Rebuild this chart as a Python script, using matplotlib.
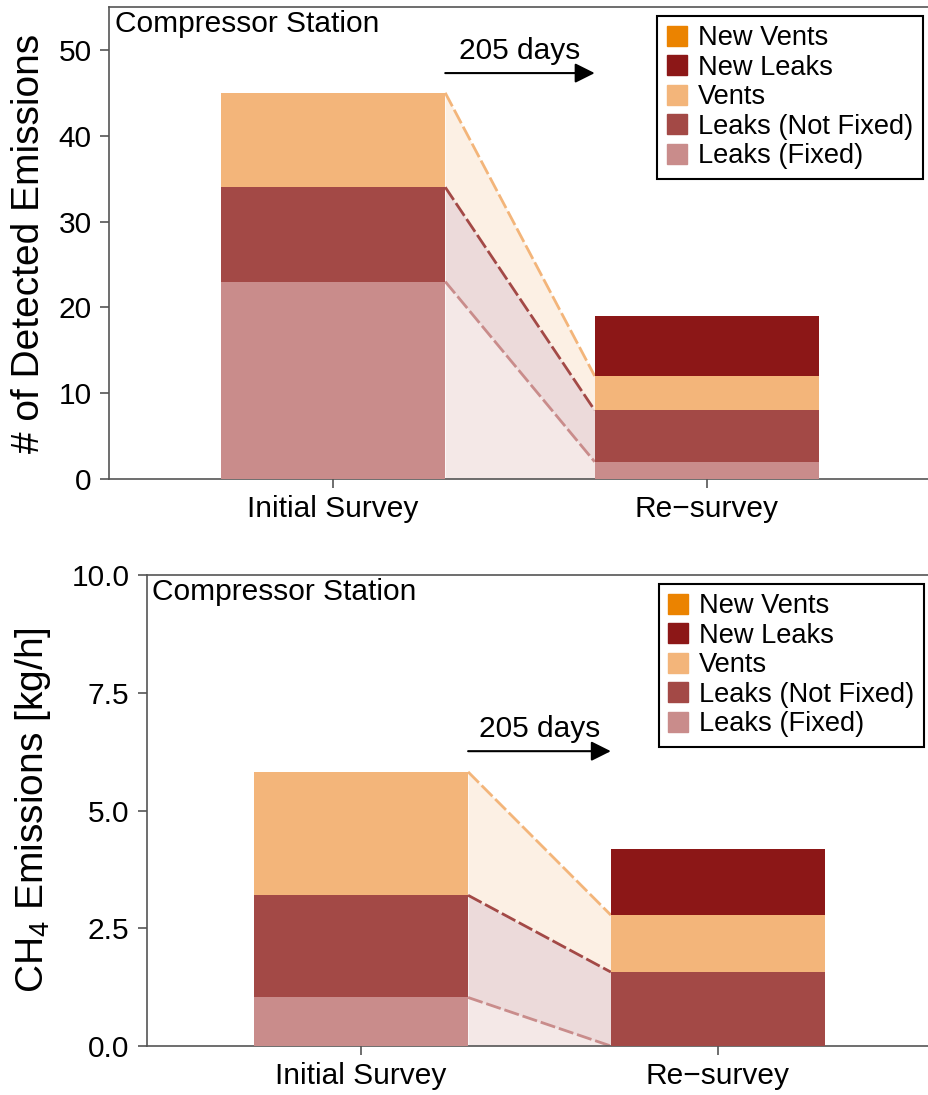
import matplotlib
matplotlib.use("Agg")
import matplotlib.pyplot as plt
import matplotlib.patches as mpatches
import numpy as np

plt.rcParams.update({
    "font.family": ["Liberation Sans", "DejaVu Sans"],
    "font.size": 21.5,
    "mathtext.fontset": "custom",
    "mathtext.rm": "Liberation Sans",
    "mathtext.default": "regular",
})

# ── data ──────────────────────────────────────────────────────────────────────
surveys = ["Initial Survey", "Re\u2212survey"]
labels = ["Leaks (Fixed)", "Leaks (Not Fixed)", "Vents", "New Leaks", "New Vents"]

# number of detected emissions
count_fixed = [23, 2]
count_not_fixed = [11, 6]
count_vents = [11, 4]
count_new_leaks = [0, 7]
count_new_vents = [0, 0]

# CH4 emission rate, kg/h
rate_fixed = [1.03, 0.0]
rate_not_fixed = [2.17, 1.57]
rate_vents = [2.62, 1.21]
rate_new_leaks = [0.0, 1.41]
rate_new_vents = [0.0, 0.0]

days_between = 205

COLORS = {
    "Leaks (Fixed)": "#c98c8b",
    "Leaks (Not Fixed)": "#a34946",
    "Vents": "#f3b57a",
    "New Leaks": "#8c1717",
    "New Vents": "#eb8300",
}
SPINE = "#555555"
W = 0.6


def panel(ax, stacks, ylim, yticks, ylabel, label_x, arrow_y):
    x = np.arange(len(surveys))
    bottom = np.zeros(len(surveys))
    tops = []
    for lbl, vals in zip(labels, stacks):
        vals = np.array(vals, dtype=float)
        ax.bar(x, vals, W, bottom=bottom, color=COLORS[lbl], zorder=3,
               linewidth=0)
        bottom = bottom + vals
        tops.append(bottom.copy())

    # connection between the bars: the first three categories carry over
    xs = [x[0] + W / 2, x[1] - W / 2]
    lower = np.zeros(2)
    for lbl, top in zip(labels[:3], tops[:3]):
        ax.fill_between(xs, lower, top, color=COLORS[lbl], alpha=0.2,
                        linewidth=0, zorder=2)
        ln, = ax.plot(xs, top, color=COLORS[lbl], lw=2.0, zorder=2.5)
        ln.set_dashes([5.5, 1.4])
        lower = top

    ax.annotate("", xy=(0.7, arrow_y), xytext=(0.3, arrow_y),
                arrowprops=dict(arrowstyle="-|>", color="black", lw=1.5,
                                mutation_scale=30, shrinkA=0, shrinkB=0),
                zorder=4)
    ax.annotate(f"{days_between} days", xy=(0.5, arrow_y), xytext=(0, 10),
                textcoords="offset points", ha="center", va="baseline")

    ax.text(0.007, 0.993, "Compressor Station", transform=ax.transAxes,
            ha="left", va="top")

    handles = [mpatches.Patch(facecolor=COLORS[l], edgecolor=COLORS[l], label=l)
               for l in labels[::-1]]
    leg = ax.legend(handles=handles, loc="upper right",
                    bbox_to_anchor=(0.99, 0.982), fontsize=19.6,
                    fancybox=False, framealpha=1, edgecolor="black",
                    handlelength=0.75, handleheight=0.75, handletextpad=0.4,
                    labelspacing=0.13, borderpad=0.35, borderaxespad=0)
    leg.get_frame().set_linewidth(1.5)

    ax.set_xlim(-0.6, 1.6)
    ax.set_ylim(*ylim)
    ax.set_xticks(x)
    ax.set_xticklabels(surveys)
    ax.set_yticks(yticks)
    ax.set_ylabel(ylabel, fontsize=28)
    ax.yaxis.set_label_coords(label_x, 0.5)
    for side in ["left", "bottom", "top", "right"]:
        ax.spines[side].set_color(SPINE)
        ax.spines[side].set_linewidth(1.2)
    ax.tick_params(axis="both", direction="out", length=6.5, width=1.2,
                   color=SPINE, labelcolor="black")
    ax.tick_params(axis="y", pad=6)
    ax.tick_params(axis="x", pad=5)


fig = plt.figure(figsize=(9.29, 10.95), dpi=100)
ax1 = fig.add_axes([0.1173, 0.5626, 0.8848, 0.4310])
ax2 = fig.add_axes([0.1582, 0.04475, 0.8450, 0.4301])

panel(ax1,
      [count_fixed, count_not_fixed, count_vents, count_new_leaks, count_new_vents],
      (0, 55), [0, 10, 20, 30, 40, 50], "# of Detected Emissions",
      -0.075, 47.3)
panel(ax2,
      [rate_fixed, rate_not_fixed, rate_vents, rate_new_leaks, rate_new_vents],
      (0, 10), [0, 2.5, 5.0, 7.5, 10.0], "CH$_4$ Emissions [kg/h]",
      -0.12, 6.26)
ax2.set_yticklabels(["0.0", "2.5", "5.0", "7.5", "10.0"])

fig.savefig("out.png", dpi=100)
